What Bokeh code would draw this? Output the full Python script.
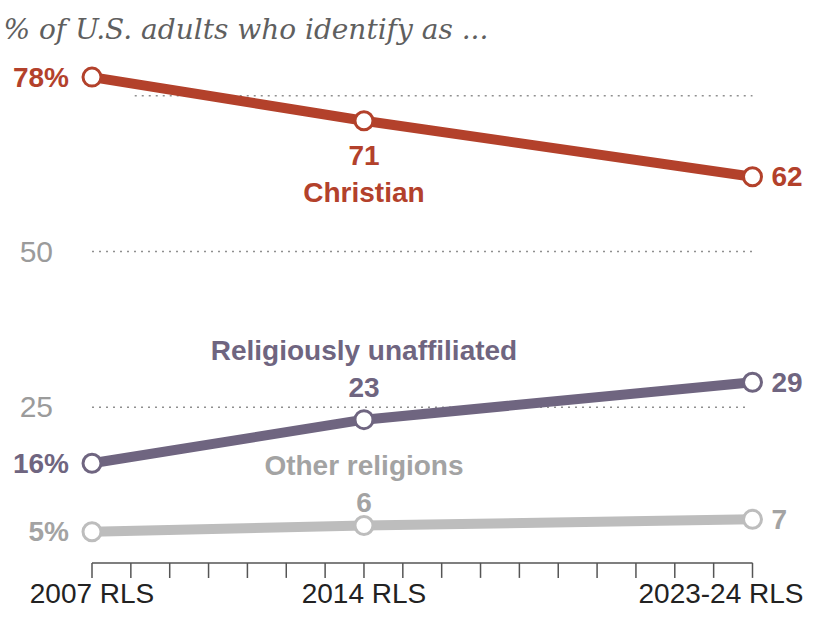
from bokeh.plotting import figure
from bokeh.models import Range1d, Label
from bokeh.core.properties import value
from bokeh.embed import file_html
from bokeh.resources import INLINE

# ---- data ----
waves = ["2007 RLS", "2014 RLS", "2023-24 RLS"]
wave_x = [2007, 2014, 2024]
christian = [78, 71, 62]
unaffiliated = [16, 23, 29]
other = [5, 6, 7]
tick_years = list(range(2007, 2025))
grid_values = [25, 50, 75]
y_tick_values = [25, 50]
y_tick_labels = ["25", "50"]
title_text = "% of U.S. adults who identify as ..."

# ---- style ----
RED = "#b3412b"
PURPLE = "#6f6580"
GRAY_LINE = "#bdbdbd"
GRAY_TEXT = "#a3a3a3"
FONT = value("Liberation Sans")

W, H = 804, 609
PX_PER_YEAR = (752 - 91.5) / 17
PX_PER_PT = 6.228
x_start = 2007 - 91.5 / PX_PER_YEAR
y_top = 562.4 / PX_PER_PT

p = figure(width=W, height=H, output_backend="svg", toolbar_location=None,
           x_range=Range1d(x_start, x_start + W / PX_PER_YEAR),
           y_range=Range1d(y_top - H / PX_PER_PT, y_top),
           min_border=0, x_axis_type=None, y_axis_type=None)
p.grid.visible = False
p.outline_line_color = None
p.background_fill_color = "white"
p.border_fill_color = "white"

# gridlines (dotted)
gx0 = [wave_x[0] + (1.1 if v == 75 else 0) for v in grid_values]
gx1 = [wave_x[-1] - (0.1 if v == 25 else 0) for v in grid_values]
p.segment(x0=gx0, y0=grid_values, x1=gx1, y1=grid_values,
          line_color="#8f8f8f", line_width=1.5, line_dash="2 5")

# y labels
p.text(x=[wave_x[0]] * len(y_tick_values), y=y_tick_values, text=y_tick_labels,
       x_offset=-39, text_align="right", text_baseline="middle",
       text_font=FONT, text_font_size="30px", text_color="#9b9b9b")

# x axis line and ticks
tick_len = 15 / PX_PER_PT
p.line(x=[tick_years[0], tick_years[-1]], y=[0, 0], line_color="#555555", line_width=1.5)
p.segment(x0=tick_years, y0=[0] * len(tick_years), x1=tick_years,
          y1=[-tick_len] * len(tick_years), line_color="#555555", line_width=1.5)

# x labels
xl = dict(text_baseline="bottom", text_font=FONT, text_font_size="28px",
          text_color="#222222", y_offset=46)
p.text(x=wave_x[:2], y=[0, 0], text=waves[:2], text_align="center", **xl)
p.text(x=wave_x[2:], y=[0], text=waves[2:], x_offset=51, text_align="right", **xl)

series = [
    (christian, RED, RED, "Christian", 72),
    (unaffiliated, PURPLE, PURPLE, "Religiously unaffiliated", -69),
    (other, GRAY_LINE, GRAY_TEXT, "Other religions", -60),
]

for vals, lc, tc, name, name_off in series:
    p.line(x=wave_x, y=vals, line_color=lc, line_width=10)
    p.scatter(x=wave_x, y=vals, size=18, fill_color="white", line_color=lc, line_width=3)
    txt = dict(text_font=FONT, text_font_size="28px", text_font_style="bold",
               text_color=tc, text_baseline="middle")
    # first value with %
    p.text(x=wave_x[:1], y=vals[:1], text=[f"{vals[0]}%"], x_offset=-23,
           text_align="right", **txt)
    # last value
    p.text(x=wave_x[2:], y=vals[2:], text=[str(vals[2])], x_offset=19,
           text_align="left", **txt)
    # middle value
    mid_off = 35 if name_off > 0 else name_off + 37
    p.text(x=wave_x[1:2], y=vals[1:2], text=[str(vals[1])], y_offset=mid_off,
           text_align="center", **txt)
    # series name
    p.text(x=wave_x[1:2], y=vals[1:2], text=[name], y_offset=name_off,
           text_align="center", **txt)

p.add_layout(Label(x=3, y=H - 29, x_units="screen", y_units="screen",
                   text=title_text, text_font="DejaVu Serif", text_font_style="italic",
                   text_font_size="28px", text_color="#5f5f5f",
                   text_baseline="alphabetic"))

open("out.html", "w").write(file_html(p, INLINE))
